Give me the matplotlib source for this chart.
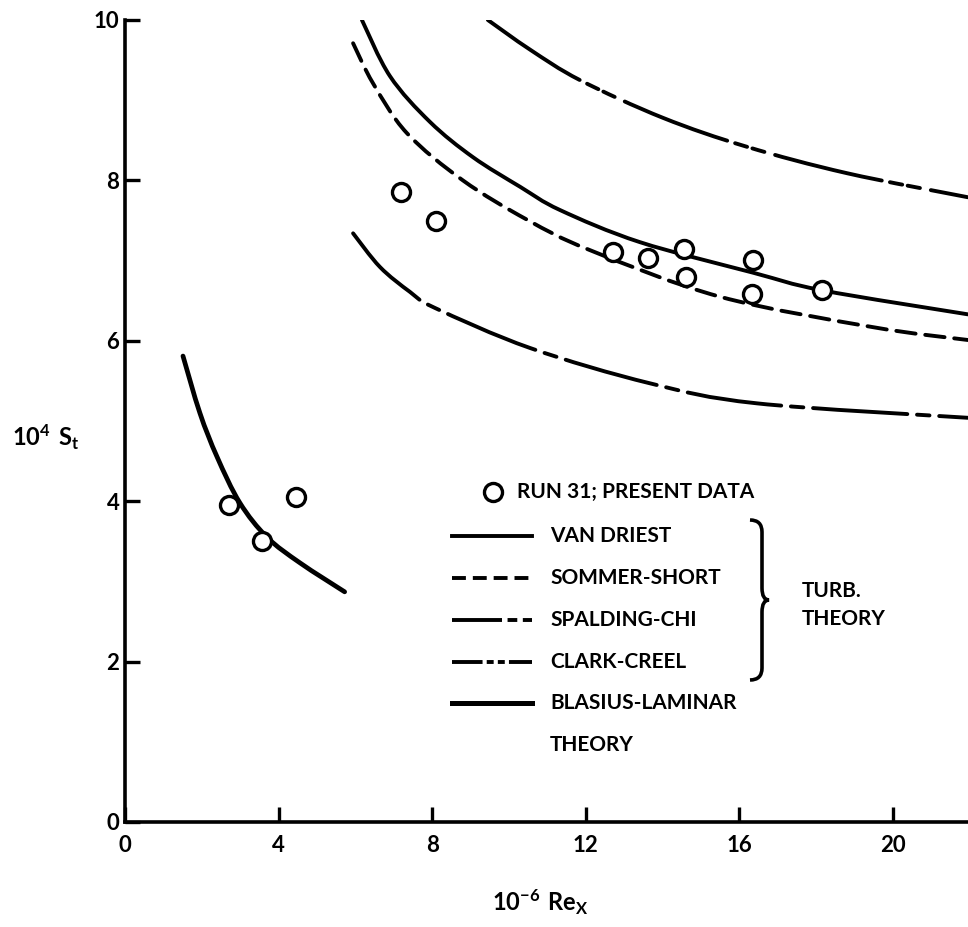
import matplotlib
matplotlib.use("Agg")
import matplotlib.pyplot as plt
from matplotlib.lines import Line2D
from matplotlib.path import Path
from matplotlib.patches import PathPatch
from matplotlib.transforms import Affine2D

W, H = 968, 927

plt.rcParams["font.family"] = "Lato"
plt.rcParams["font.weight"] = "bold"
plt.rcParams["mathtext.fontset"] = "custom"
plt.rcParams["mathtext.rm"] = "Lato:bold"
plt.rcParams["lines.scale_dashes"] = False

# run 31 heat-transfer data: 10^-6 Re_x vs 10^4 St
run31_rex = [2.71, 3.57, 4.45, 7.19, 8.10, 12.71, 13.62, 14.56, 14.61, 16.35, 16.33, 18.15]
run31_st = [3.95, 3.50, 4.05, 7.86, 7.49, 7.11, 7.03, 7.14, 6.80, 7.01, 6.58, 6.63]

# theory curves
van_driest_rex = [6.17, 6.90, 7.94, 9.06, 10.29, 11.33, 13.41, 16.35, 18.15, 21.95]
van_driest_st = [10.0, 9.30, 8.73, 8.29, 7.92, 7.63, 7.23, 6.85, 6.63, 6.33]

sommer_short_rex = [5.94, 6.46, 7.34, 8.80, 10.47, 12.11, 15.49, 19.48, 21.95]
sommer_short_st = [9.71, 9.21, 8.59, 8.00, 7.51, 7.13, 6.55, 6.17, 6.01]

spalding_chi_rex = [5.94, 6.64, 7.42, 8.07, 10.55, 13.67, 16.46, 21.95]
spalding_chi_st = [7.34, 6.92, 6.61, 6.41, 5.91, 5.47, 5.22, 5.04]

clark_creel_rex = [9.45, 10.55, 11.85, 14.01, 16.19, 18.80, 21.95]
clark_creel_st = [10.0, 9.63, 9.25, 8.78, 8.42, 8.09, 7.79]

blasius_rex = [1.51, 1.95, 2.40, 2.99, 3.70, 4.56, 5.72]
blasius_st = [5.81, 5.10, 4.55, 3.98, 3.55, 3.23, 2.87]

x_ticks = [0, 4, 8, 12, 16, 20]
y_ticks = [0, 2, 4, 6, 8, 10]

LW = 2.8


def smooth_path(xs, ys):
    """Catmull-Rom curve through the given points as a cubic Bezier path."""
    pts = list(zip(xs, ys))
    ext = [pts[0]] + pts + [pts[-1]]
    verts = [pts[0]]
    codes = [Path.MOVETO]
    for i in range(1, len(ext) - 2):
        p0, p1, p2, p3 = ext[i - 1], ext[i], ext[i + 1], ext[i + 2]
        c1 = (p1[0] + (p2[0] - p0[0]) / 6, p1[1] + (p2[1] - p0[1]) / 6)
        c2 = (p2[0] - (p3[0] - p1[0]) / 6, p2[1] - (p3[1] - p1[1]) / 6)
        verts += [c1, c2, p2]
        codes += [Path.CURVE4] * 3
    return Path(verts, codes)


def curve(ax, xs, ys, ls, lw=LW):
    ax.add_patch(PathPatch(smooth_path(xs, ys), fill=False, ec="k", lw=lw,
                           ls=ls, capstyle="round", joinstyle="round"))


fig = plt.figure(figsize=(W / 100, H / 100), dpi=100)
ax = fig.add_axes([125 / W, 1 - 822 / H, 1 - 125 / W, (822 - 20) / H])

# top-left pixel coordinates for the annotation block
PX = Affine2D().scale(1 / W, -1 / H).translate(0, 1) + fig.transFigure

curve(ax, van_driest_rex, van_driest_st, "-")
curve(ax, sommer_short_rex, sommer_short_st, (0, (14, 7)))
curve(ax, spalding_chi_rex, spalding_chi_st, (0, (68, 7, 9, 7)))
curve(ax, clark_creel_rex, clark_creel_st, (0, (79, 6, 9, 4, 9, 8)))
curve(ax, blasius_rex, blasius_st, "-", lw=3.4)
ax.plot(run31_rex, run31_st, "o", ms=13, mfc="white", mec="k", mew=2.4, ls="none")

ax.set_xlim(0, (W - 125) / 38.4)
ax.set_ylim(0, 10)
ax.set_xticks(x_ticks)
ax.set_yticks(y_ticks)
for s in ("top", "right"):
    ax.spines[s].set_visible(False)
for s in ("left", "bottom"):
    ax.spines[s].set_linewidth(2.6)
ax.tick_params(axis="both", direction="in", length=11, width=2.4, labelsize=16)
ax.tick_params(axis="y", pad=4)
ax.tick_params(axis="x", pad=9)

fig.text(12, 437, r"$\mathregular{10^{4}\ S_{t}}$", transform=PX, fontsize=17, va="center", ha="left")
fig.text(540, 902, r"$\mathregular{10^{-6}\ Re_{X}}$", transform=PX, fontsize=17, va="center", ha="center")

# key
txt = dict(transform=PX, fontsize=15, va="center", ha="left")
fig.add_artist(Line2D([493], [492], transform=PX, marker="o", ms=13, mfc="white", mec="k", mew=2.4, ls="none"))
fig.text(517, 492, "RUN 31; PRESENT DATA", **txt)
key = [
    ("VAN DRIEST", 536, dict(ls="-"), LW),
    ("SOMMER-SHORT", 578, dict(dashes=(10, 5)), LW),
    ("SPALDING-CHI", 620, dict(dashes=(36, 4, 7, 4)), LW),
    ("CLARK-CREEL", 662, dict(dashes=(22, 3, 5, 3, 5, 3)), LW),
    ("BLASIUS-LAMINAR", 703, dict(ls="-"), 3.6),
]
for label, y, st, lw in key:
    fig.add_artist(Line2D([452, 532], [y, y], transform=PX, color="k", lw=lw, **st))
    fig.text(550, y, label, **txt)
fig.text(550, 745, "THEORY", **txt)

# brace grouping the turbulent theories
brace_verts = [(750, 520), (762, 520), (762, 532), (762, 588),
               (762, 600), (769, 600), (762, 600), (762, 612),
               (762, 668), (762, 680), (750, 680)]
brace_codes = [Path.MOVETO, Path.CURVE3, Path.CURVE3, Path.LINETO,
               Path.CURVE3, Path.CURVE3, Path.CURVE3, Path.CURVE3,
               Path.LINETO, Path.CURVE3, Path.CURVE3]
fig.add_artist(PathPatch(Path(brace_verts, brace_codes), transform=PX, fill=False, lw=2.6, ec="k"))
fig.text(802, 591, "TURB.", **txt)
fig.text(802, 619, "THEORY", **txt)

fig.savefig("out.png", dpi=100)
